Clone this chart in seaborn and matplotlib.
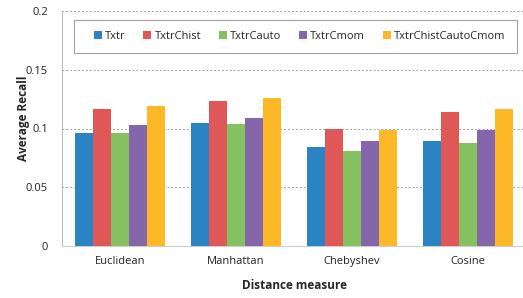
import pandas as pd
import matplotlib.pyplot as plt
import seaborn as sns
from matplotlib.patches import Rectangle

# values
measures = ["Euclidean", "Manhattan", "Chebyshev", "Cosine"]
txtr = [0.0963, 0.1045, 0.0839, 0.0892]
txtr_chist = [0.1170, 0.1238, 0.1000, 0.1144]
txtr_cauto = [0.0963, 0.1040, 0.0805, 0.0880]
txtr_cmom = [0.1030, 0.1093, 0.0892, 0.0991]
txtr_all = [0.1190, 0.1260, 0.0988, 0.1170]

series = {
    "Txtr": txtr,
    "TxtrChist": txtr_chist,
    "TxtrCauto": txtr_cauto,
    "TxtrCmom": txtr_cmom,
    "TxtrChistCautoCmom": txtr_all,
}
colors = ["#2A83C3", "#E05757", "#85C061", "#8566AB", "#FDB827"]

rows = []
for name, vals in series.items():
    for m, v in zip(measures, vals):
        rows.append({"measure": m, "method": name, "recall": v})
df = pd.DataFrame(rows)

sns.set_style("white")
plt.rcParams["font.family"] = ["Open Sans", "DejaVu Sans"]

fig = plt.figure(figsize=(5.23, 2.98), dpi=100)
ax = fig.add_axes([62 / 523, 1 - 246 / 298, 464 / 523, 235 / 298])

sns.barplot(data=df, x="measure", y="recall", hue="method", palette=colors,
            width=0.77, saturation=1, linewidth=0, ax=ax, zorder=3)

ax.set_ylim(0, 0.2)
ax.set_xlim(-0.5, 3.5)
ax.set_yticks([0, 0.05, 0.1, 0.15, 0.2])
ax.set_yticklabels(["0", "0.05", "0.1", "0.15", "0.2"])
ax.yaxis.grid(True, linestyle=(0, (2, 2)), color="#A0A0A0", linewidth=0.7, zorder=0)
ax.tick_params(axis="both", labelsize=8, labelcolor="#222222")
ax.tick_params(axis="y", length=3, width=0.7, color="#A0A0A0", pad=7)
ax.tick_params(axis="x", length=0, pad=7)
for s in ["top", "right"]:
    ax.spines[s].set_visible(False)
ax.spines["left"].set_color("#BBBBBB")
ax.spines["bottom"].set_color("#CCCCCC")

ax.set_xlabel("Distance measure", fontsize=8.5, fontweight="bold", labelpad=9)
ax.set_ylabel("Average Recall", fontsize=8.5, fontweight="bold")
ax.yaxis.set_label_coords(-0.069, 0.543)

# legend box drawn separately so it can be wider than its entries
ax.add_patch(Rectangle((12 / 464, 1 - 42 / 235), 443 / 464, 33 / 235,
                       transform=ax.transAxes, facecolor="white",
                       edgecolor="#A0A0A0", linewidth=0.8, zorder=4))
handles, labels = ax.get_legend_handles_labels()
leg = ax.legend(handles, labels, ncol=5, loc="center",
                bbox_to_anchor=(0.512, 1 - 25.5 / 235),
                fontsize=8, frameon=False, borderaxespad=0,
                handlelength=0.7, handleheight=0.7, handletextpad=0.3,
                columnspacing=1.6)
leg.set_zorder(5)

fig.savefig("out.png", dpi=100)
